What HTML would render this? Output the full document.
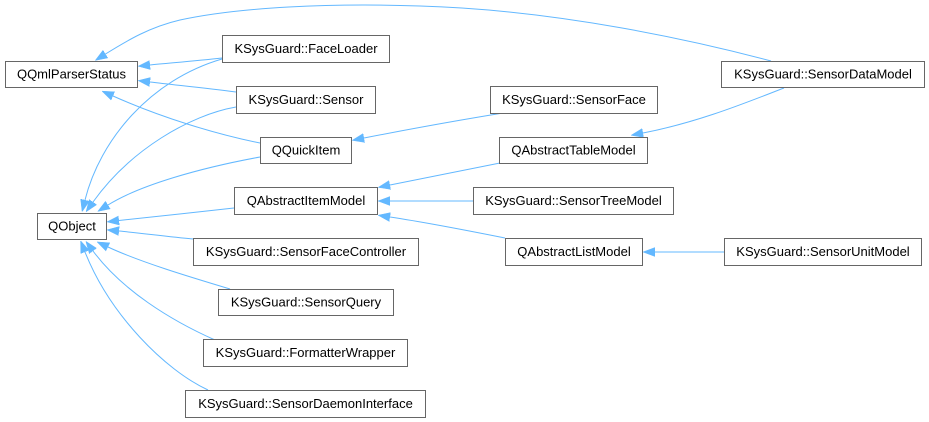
<!DOCTYPE html>
<html><head><meta charset="utf-8"><style>
html,body{margin:0;padding:0;background:#fff;}
svg{display:block;}
text{font-family:"Liberation Sans",Arial,sans-serif;font-size:13px;fill:#000;text-anchor:middle;}
.e{fill:none;stroke:#63b8ff;stroke-width:1;}
.n{fill:#fff;stroke:#666;stroke-width:1;}
</style></head><body>
<svg width="929" height="422" viewBox="0 0 929 422" xmlns="http://www.w3.org/2000/svg">
<defs>
<marker id="a" viewBox="0 0 12 10" refX="0" refY="5" markerWidth="12" markerHeight="10" markerUnits="userSpaceOnUse" orient="auto">
<path d="M0,0.5 L12,5 L0,9.5 z" fill="#63b8ff" stroke="#63b8ff" stroke-width="0.5"/>
</marker>
</defs>
<g>
<path class="e" marker-end="url(#a)" d="M771,61 C700,42 560,10 420,6 C330,3 240,7 180,20 C150,27 128,40 105.5,54"/>
<path class="e" marker-end="url(#a)" d="M222,58 C195,61 170,63 150,65"/>
<path class="e" marker-end="url(#a)" d="M236,92 C205,88 175,85 150,82"/>
<path class="e" marker-end="url(#a)" d="M260,143 C215,134 160,117 113,96"/>
<path class="e" marker-end="url(#a)" d="M222,59 C150,80 100,140 85,200"/>
<path class="e" marker-end="url(#a)" d="M236,107 C190,115 130,150 93,202"/>
<path class="e" marker-end="url(#a)" d="M260,157 C200,168 140,185 108,205"/>
<path class="e" marker-end="url(#a)" d="M234,208 C200,212 150,217 119,220.5"/>
<path class="e" marker-end="url(#a)" d="M193,239 C170,237 140,233 119,231"/>
<path class="e" marker-end="url(#a)" d="M230,289 C190,277 140,262 108,247"/>
<path class="e" marker-end="url(#a)" d="M215,340 C170,320 122,290 93,251"/>
<path class="e" marker-end="url(#a)" d="M208,390 C165,370 110,315 85,252"/>
<path class="e" marker-end="url(#a)" d="M503,113 C460,120 410,129 364,138"/>
<path class="e" marker-end="url(#a)" d="M784,88 C750,101 700,122 643,133"/>
<path class="e" marker-end="url(#a)" d="M500,163 C465,170 425,178 390,185"/>
<path class="e" marker-end="url(#a)" d="M473,201 L390,201"/>
<path class="e" marker-end="url(#a)" d="M505,238 C470,231 430,223 390,217"/>
<path class="e" marker-end="url(#a)" d="M724,252 L655,252"/>
</g>
<g>
<rect class="n" x="5.5" y="61.5" width="132" height="26"/><text x="71.5" y="78.5">QQmlParserStatus</text>
<rect class="n" x="222.5" y="35.5" width="167" height="27"/><text x="306" y="53">KSysGuard::FaceLoader</text>
<rect class="n" x="236.5" y="86.5" width="139" height="27"/><text x="306" y="104">KSysGuard::Sensor</text>
<rect class="n" x="260.5" y="137.5" width="91" height="26"/><text x="306" y="154.5">QQuickItem</text>
<rect class="n" x="234.5" y="187.5" width="143" height="27"/><text x="306" y="205">QAbstractItemModel</text>
<rect class="n" x="37.5" y="213.5" width="69" height="26"/><text x="72" y="230.5">QObject</text>
<rect class="n" x="193.5" y="238.5" width="225" height="27"/><text x="306" y="256">KSysGuard::SensorFaceController</text>
<rect class="n" x="218.5" y="289.5" width="175" height="26"/><text x="306" y="306.5">KSysGuard::SensorQuery</text>
<rect class="n" x="203.5" y="339.5" width="204" height="27"/><text x="305.5" y="357">KSysGuard::FormatterWrapper</text>
<rect class="n" x="185.5" y="390.5" width="240" height="27"/><text x="305.5" y="408">KSysGuard::SensorDaemonInterface</text>
<rect class="n" x="721.5" y="61.5" width="203" height="26"/><text x="823" y="78.5">KSysGuard::SensorDataModel</text>
<rect class="n" x="490.5" y="86.5" width="167" height="27"/><text x="574" y="104">KSysGuard::SensorFace</text>
<rect class="n" x="499.5" y="137.5" width="148" height="26"/><text x="573.5" y="154.5">QAbstractTableModel</text>
<rect class="n" x="473.5" y="187.5" width="200" height="27"/><text x="573.5" y="205">KSysGuard::SensorTreeModel</text>
<rect class="n" x="505.5" y="238.5" width="137" height="27"/><text x="574" y="256">QAbstractListModel</text>
<rect class="n" x="724.5" y="238.5" width="197" height="27"/><text x="823" y="256">KSysGuard::SensorUnitModel</text>
</g>
</svg>
</body></html>
